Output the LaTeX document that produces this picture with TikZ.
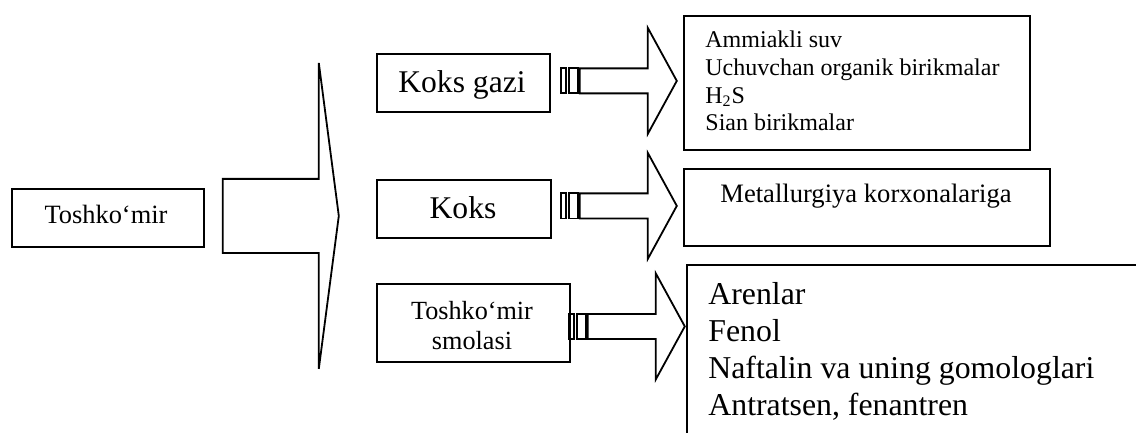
\documentclass[tikz,border=0pt]{standalone}
\usepackage{fontspec}
\setmainfont{Liberation Serif}
\usetikzlibrary{calc}

\tikzset{
  outline/.style={line width=0.9pt, line join=miter},
  box/.style={draw, outline, inner sep=0pt, anchor=north west},
  lbl/.style={inner sep=0pt, anchor=base},
  lst/.style={inner sep=0pt, anchor=base west, align=left},
  stripedarrow/.pic={
    \draw[outline] (0,-12.5) rectangle (5,12.5);
    \draw[outline] (8,-12.5) rectangle (17,12.5);
    \draw[outline] (19,-12.5) -- (87,-12.5) -- (87,-53) -- (116,0)
      -- (87,53) -- (87,12.5) -- (19,12.5) -- cycle;
  }
}

\begin{document}
\begin{tikzpicture}[x=0.5pt, y=-0.5pt]
  \useasboundingbox (0,0) rectangle (1136,433);

  % boxes
  \node (tm) [box, minimum width=96pt, minimum height=29pt] at (11,188) {};
  \node (kg) [box, minimum width=86.5pt, minimum height=29pt] at (376,53) {};
  \node (kk) [box, minimum width=87pt, minimum height=29pt] at (376,179) {};
  \node (sm) [box, minimum width=96.5pt, minimum height=39pt] at (376,283) {};
  \node (kgres) [box, minimum width=173pt, minimum height=67pt] at (683,15) {};
  \node (kkres) [box, minimum width=183pt, minimum height=38.5pt] at (683,168) {};
  \node (smres) [inner sep=0pt, anchor=north west, minimum width=224.5pt,
    minimum height=83.5pt] at (687,265) {};
  \draw[outline] (smres.north east) -- (smres.north west) -- (smres.south west);

  % texts (base = last line)
  \node (tmtxt) [lbl, font={\fontsize{13.2}{15}\selectfont}] at (106,223) {Toshko‘mir};
  \node (kgtxt) [lbl, font={\fontsize{15.8}{18}\selectfont}] at (462,93) {Koks gazi};
  \node (kktxt) [lbl, font={\fontsize{15.8}{18}\selectfont}] at (463,219) {Koks};
  \node (smtxt) [lbl, align=center, font={\fontsize{13.1}{15}\selectfont}] at (472,349)
    {Toshko‘mir\\smolasi};
  \node (kgres-txt) [lst, font={\fontsize{12}{13.85}\selectfont}] at (705,131)
    {Ammiakli suv\\Uchuvchan organik birikmalar\\H\textsubscript{2}S\\Sian birikmalar};
  \node (kkres-txt) [lbl, font={\fontsize{13.3}{15}\selectfont}] at (866,203)
    {Metallurgiya korxonalariga};
  \node (smres-txt) [lst, font={\fontsize{15.9}{18.35}\selectfont}] at (708,415)
    {Arenlar\\Fenol\\Naftalin va uning gomologlari\\Antratsen, fenantren};

  % big arrow
  \draw[outline] ($(tm.east)+(18,-39)$) -- ++(96,0) -- ++(0,-116) -- ++(20,153)
    -- ++(-20,153) -- ++(0,-116) -- ++(-96,0) -- cycle;

  % striped arrows
  \pic at ($(kg.east)+(10,-2)$) {stripedarrow};
  \pic at ($(kk.east)+(9,-3)$) {stripedarrow};
  \pic at ($(sm.east)+(-2,3.5)$) {stripedarrow};
\end{tikzpicture}
\end{document}
